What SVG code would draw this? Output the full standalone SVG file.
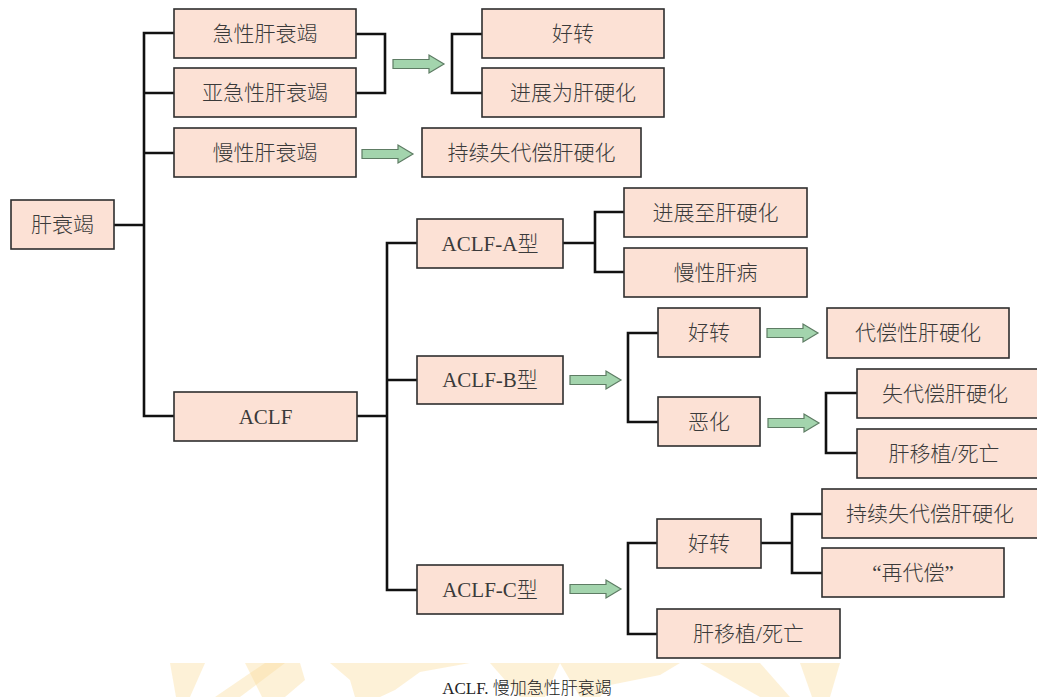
<svg xmlns="http://www.w3.org/2000/svg" xmlns:xlink="http://www.w3.org/1999/xlink" width="1037" height="697" viewBox="0 0 1037 697">
<style>
.box{fill:#fce1d5;stroke:#2e2e2e;stroke-width:1.6}
.t{font-family:"Liberation Serif","Noto Sans CJK SC",serif;font-size:21px;font-weight:300;fill:#3a3a3a;text-anchor:middle}
.c{fill:none;stroke:#111;stroke-width:2.6;stroke-linejoin:miter}
.ar{fill:#a3d4ad;stroke:#5e7c64;stroke-width:1.2}
.wm{fill:#fbdc9a;opacity:0.4}
</style>
<defs>
<path id="barrow" d="M0,-4.5 H36 V-9 L51,0 L36,9 V4.5 H0 Z"/>
</defs>
<rect width="1037" height="697" fill="#fff"/>
<g id="watermark">
<polygon class="wm" points="170,663 205,663 190,697 176,697"/>
<polygon class="wm" points="215,697 265,663 285,663 240,697"/>
<polygon class="wm" points="245,663 300,663 305,680 285,697 262,697"/>
<polygon class="wm" points="330,663 470,663 420,672 395,690 380,697 355,697 350,680"/>
<polygon class="wm" points="490,663 560,663 545,697 520,697"/>
<polygon class="wm" points="560,663 680,663 660,675 610,685 600,697 580,697"/>
<polygon class="wm" points="700,663 760,663 790,697 760,697"/>
<polygon class="wm" points="800,663 840,663 830,697 812,697"/>
</g>
<g id="connectors">
<path class="c" d="M174,33 H144 V416 H174 M144,93 H174 M144,153 H174 M114,225 H144"/>
<path class="c" d="M356,34 H385 V93 H356"/>
<path class="c" d="M482,34 H452 V93 H482"/>
<path class="c" d="M357,416 H387 M417,243 H387 V590 H417 M387,380 H417"/>
<path class="c" d="M563,243 H595 M624,212 H595 V272 H624"/>
<path class="c" d="M658,333 H628 V422 H658"/>
<path class="c" d="M857,393 H826 V453 H857"/>
<path class="c" d="M657,543 H628 V634 H657"/>
<path class="c" d="M761,543 H792 M822,514 H792 V573 H822"/>
<use class="ar" xlink:href="#barrow" href="#barrow" transform="translate(393,64)"/>
<use class="ar" xlink:href="#barrow" href="#barrow" transform="translate(362,154)"/>
<use class="ar" xlink:href="#barrow" href="#barrow" transform="translate(570,380)"/>
<use class="ar" xlink:href="#barrow" href="#barrow" transform="translate(767,333)"/>
<use class="ar" xlink:href="#barrow" href="#barrow" transform="translate(768,423)"/>
<use class="ar" xlink:href="#barrow" href="#barrow" transform="translate(570,589)"/>
</g>
<g id="n-ganshuaijie"><rect class="box" x="11" y="200" width="103" height="49"/><text class="t" x="62.5" y="232">肝衰竭</text></g>
<g id="n-jixing"><rect class="box" x="174" y="9" width="182" height="49"/><text class="t" x="265" y="41">急性肝衰竭</text></g>
<g id="n-yajixing"><rect class="box" x="174" y="68" width="182" height="49"/><text class="t" x="265" y="100">亚急性肝衰竭</text></g>
<g id="n-manxing"><rect class="box" x="174" y="128" width="182" height="49"/><text class="t" x="265" y="160">慢性肝衰竭</text></g>
<g id="n-haozhuan1"><rect class="box" x="482" y="9" width="182" height="49"/><text class="t" x="573" y="41">好转</text></g>
<g id="n-jinzhanwei"><rect class="box" x="482" y="68" width="182" height="49"/><text class="t" x="573" y="100">进展为肝硬化</text></g>
<g id="n-chixu1"><rect class="box" x="422" y="128" width="219" height="49"/><text class="t" x="531.5" y="160">持续失代偿肝硬化</text></g>
<g id="n-aclf"><rect class="box" x="174" y="392" width="183" height="49"/><text class="t" x="265.5" y="424">ACLF</text></g>
<g id="n-aclfa"><rect class="box" x="417" y="219" width="146" height="49"/><text class="t" x="490" y="251">ACLF-A型</text></g>
<g id="n-jinzhanzhi"><rect class="box" x="624" y="188" width="183" height="49"/><text class="t" x="715.5" y="220">进展至肝硬化</text></g>
<g id="n-manxinggb"><rect class="box" x="624" y="248" width="183" height="49"/><text class="t" x="715.5" y="280">慢性肝病</text></g>
<g id="n-aclfb"><rect class="box" x="417" y="356" width="146" height="48"/><text class="t" x="490" y="387">ACLF-B型</text></g>
<g id="n-haozhuanb"><rect class="box" x="658" y="308" width="102" height="49"/><text class="t" x="709" y="340">好转</text></g>
<g id="n-ehua"><rect class="box" x="658" y="397" width="102" height="49"/><text class="t" x="709" y="429">恶化</text></g>
<g id="n-daichang"><rect class="box" x="827" y="308" width="182" height="50"/><text class="t" x="918" y="340">代偿性肝硬化</text></g>
<g id="n-shidaichang"><rect class="box" x="857" y="369" width="185" height="49"/><text class="t" x="945" y="401">失代偿肝硬化</text></g>
<g id="n-yizhib"><rect class="box" x="857" y="429" width="185" height="49"/><text class="t" x="944" y="461">肝移植/死亡</text></g>
<g id="n-aclfc"><rect class="box" x="417" y="565" width="146" height="49"/><text class="t" x="490" y="597">ACLF-C型</text></g>
<g id="n-haozhuanc"><rect class="box" x="657" y="519" width="104" height="49"/><text class="t" x="709" y="551">好转</text></g>
<g id="n-chixu2"><rect class="box" x="822" y="489" width="220" height="49"/><text class="t" x="930" y="521">持续失代偿肝硬化</text></g>
<g id="n-zaidaichang"><rect class="box" x="822" y="548" width="182" height="49"/><text class="t" x="913" y="580">“再代偿”</text></g>
<g id="n-yizhic"><rect class="box" x="657" y="609" width="183" height="49"/><text class="t" x="748.5" y="641">肝移植/死亡</text></g>
<text id="caption" x="527" y="694" style="font-family:'Liberation Serif','Noto Sans CJK SC',serif;font-size:17px;font-weight:300;fill:#222;text-anchor:middle">ACLF. 慢加急性肝衰竭</text>
</svg>
